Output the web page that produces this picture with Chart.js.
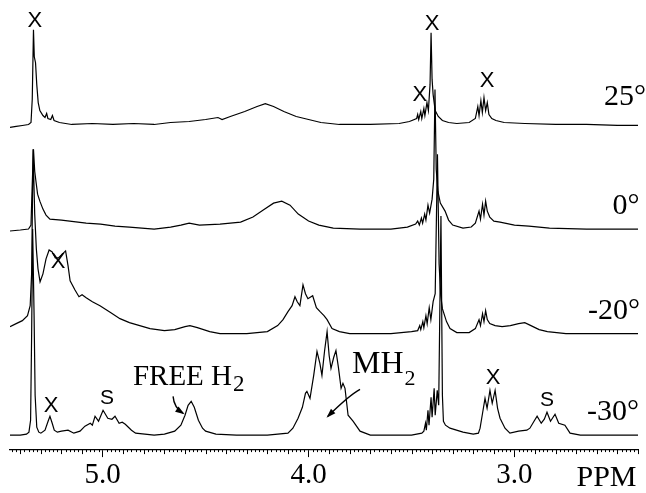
<!DOCTYPE html>
<html>
<head>
<meta charset="utf-8">
<script src="https://cdn.jsdelivr.net/npm/chart.js@4"></script>
<style>
  html, body { margin: 0; background: #fff; }
  #wrap { width: 646px; height: 493px; position: relative; }
</style>
</head>
<body>
<div id="wrap"><canvas id="nmr"></canvas></div>
<script>
// Stacked 1H NMR spectra: [ppm, intensity above the trace's own baseline]
const temps = ['25°', '0°', '-20°', '-30°'];

const spec25 = [[5.45,-3],[5.42,-2],[5.39,-1],[5.36,0],[5.348,2],[5.342,25],[5.336,95],[5.332,68],[5.326,62],[5.32,40],[5.313,22],[5.305,14],[5.29,9],[5.28,7],[5.272,11],[5.266,6],[5.252,5],[5.244,9],[5.236,4],[5.21,2],[5.15,0],[5.05,1],[4.95,0],[4.85,1],[4.75,0],[4.67,2],[4.58,3],[4.50,5],[4.44,7],[4.42,5],[4.38,8],[4.31,13],[4.25,18],[4.21,21],[4.17,18],[4.12,13],[4.06,8],[4.00,5],[3.94,2],[3.85,0],[3.70,0],[3.56,1],[3.51,3],[3.475,6],[3.47,10],[3.465,5],[3.455,13],[3.45,6],[3.44,16],[3.435,9],[3.425,22],[3.418,14],[3.41,40],[3.405,92],[3.40,45],[3.395,30],[3.385,14],[3.37,8],[3.35,4],[3.32,2],[3.28,1],[3.22,2],[3.19,6],[3.178,18],[3.172,9],[3.163,24],[3.156,12],[3.148,27],[3.14,14],[3.132,22],[3.124,10],[3.11,6],[3.09,4],[3.05,2],[2.95,1],[2.80,0],[2.65,0],[2.50,-1],[2.40,-1]];

const spec0 = [[5.45,-2],[5.40,-1],[5.36,0],[5.348,4],[5.342,45],[5.336,80],[5.33,58],[5.324,48],[5.316,35],[5.305,28],[5.29,20],[5.275,14],[5.256,10],[5.20,9],[5.16,8],[5.08,6],[5.01,5],[4.94,3],[4.87,2],[4.75,0],[4.67,2],[4.62,4],[4.58,6],[4.53,4],[4.43,5],[4.33,7],[4.27,12],[4.22,19],[4.17,26],[4.13,28],[4.09,24],[4.05,15],[4.00,8],[3.95,4],[3.88,1],[3.75,0],[3.60,0],[3.52,2],[3.48,5],[3.47,8],[3.462,4],[3.452,11],[3.446,6],[3.436,15],[3.43,9],[3.42,24],[3.412,16],[3.40,30],[3.392,50],[3.386,140],[3.38,60],[3.372,38],[3.36,26],[3.337,18],[3.32,9],[3.30,4],[3.25,1],[3.21,2],[3.19,6],[3.172,18],[3.165,10],[3.155,25],[3.148,14],[3.14,28],[3.132,18],[3.12,12],[3.10,8],[3.07,7],[3.0,4],[2.93,3],[2.83,1],[2.65,0],[2.40,0]];

const specM20 = [[5.45,7],[5.42,10],[5.39,13],[5.365,18],[5.352,28],[5.345,60],[5.338,185],[5.33,120],[5.322,85],[5.314,65],[5.304,52],[5.29,60],[5.275,75],[5.26,84],[5.245,82],[5.23,76],[5.215,76],[5.195,80],[5.18,83],[5.168,68],[5.158,53],[5.135,44],[5.115,37],[5.10,39],[5.08,36],[5.05,32],[5.013,28],[4.96,21],[4.916,15],[4.87,11],[4.82,8],[4.77,5],[4.70,3],[4.65,4],[4.60,7],[4.576,8],[4.54,6],[4.48,2],[4.43,0],[4.30,0],[4.20,2],[4.15,8],[4.124,14],[4.10,22],[4.08,28],[4.066,37],[4.055,32],[4.042,28],[4.027,49],[4.015,40],[4.003,35],[3.98,38],[3.962,26],[3.944,22],[3.925,18],[3.91,14],[3.886,5],[3.85,2],[3.80,0],[3.60,0],[3.50,2],[3.47,3],[3.46,8],[3.455,4],[3.445,12],[3.44,6],[3.43,18],[3.424,10],[3.414,26],[3.406,14],[3.395,32],[3.385,40],[3.374,180],[3.366,70],[3.358,38],[3.35,25],[3.33,12],[3.313,5],[3.28,1],[3.22,1],[3.19,5],[3.172,14],[3.165,8],[3.155,20],[3.148,12],[3.14,23],[3.132,14],[3.12,10],[3.094,8],[3.06,7],[3.02,8],[2.98,10],[2.95,11],[2.92,8],[2.88,4],[2.84,2],[2.75,0],[2.40,0]];

const specM30 = [[5.45,0],[5.40,0],[5.37,1],[5.358,3],[5.35,15],[5.345,100],[5.34,207],[5.333,120],[5.328,40],[5.32,8],[5.31,3],[5.30,2],[5.28,5],[5.265,14],[5.256,19],[5.245,12],[5.235,5],[5.22,3],[5.2,4],[5.168,5],[5.14,2],[5.11,4],[5.086,9],[5.06,12],[5.05,10],[5.037,19],[5.02,14],[4.998,25],[4.975,17],[4.955,16],[4.94,19],[4.92,12],[4.905,13],[4.89,11],[4.86,5],[4.84,2],[4.75,0],[4.70,1],[4.65,4],[4.62,10],[4.60,20],[4.585,30],[4.57,34],[4.555,28],[4.535,15],[4.515,7],[4.50,4],[4.45,1],[4.35,0],[4.20,0],[4.10,2],[4.076,7],[4.051,17],[4.03,28],[4.015,42],[4.008,44],[3.993,37],[3.975,60],[3.959,84],[3.945,72],[3.935,60],[3.922,85],[3.91,104],[3.9,80],[3.891,67],[3.878,78],[3.867,85],[3.855,68],[3.842,47],[3.833,52],[3.823,47],[3.808,20],[3.784,14],[3.75,4],[3.70,0],[3.50,0],[3.45,2],[3.44,4],[3.432,12],[3.428,5],[3.42,25],[3.415,10],[3.405,38],[3.40,18],[3.39,47],[3.385,20],[3.375,45],[3.368,30],[3.357,220],[3.35,40],[3.345,14],[3.335,10],[3.313,7],[3.25,3],[3.2,1],[3.175,2],[3.167,7],[3.155,22],[3.143,37],[3.133,27],[3.119,45],[3.108,32],[3.094,45],[3.082,27],[3.07,17],[3.046,7],[3.022,2],[2.98,4],[2.94,5],[2.925,7],[2.905,14],[2.89,19],[2.87,12],[2.855,16],[2.842,23],[2.825,14],[2.803,21],[2.785,12],[2.755,10],[2.73,2],[2.68,0],[2.40,0]];

const spectra = [spec25, spec0, specM20, specM30];
// vertical stacking of the traces
const offsets = [326, 221, 116, 14];

const tickValues = [5, 4, 3];
const tickLabels = ['5.0', '4.0', '3.0'];

// peak markers: [text, ppm, height]
const markers = [
    ['X', 5.329, 430], ['X', 3.400, 427], ['X', 3.459, 356], ['X', 3.133, 370],
    ['X', 5.217, 188], ['X', 5.251, 43], ['X', 3.104, 71],
    ['S', 4.979, 51], ['S', 2.842, 49]
];

const serif = '"Liberation Serif", "Times New Roman", serif';

const decor = {
    id: 'decor',
    afterDraw(chart) {
        const ctx = chart.ctx;
        const xs = chart.scales.x, ys = chart.scales.y;
        const px = v => xs.getPixelForValue(v);
        const py = v => ys.getPixelForValue(v);
        const bottom = chart.chartArea.bottom;
        ctx.save();
        ctx.strokeStyle = '#000';
        ctx.fillStyle = '#000';
        ctx.lineWidth = 1;

        // minor ticks every 0.02, medium every 0.1
        ctx.beginPath();
        for (let k = 120; k <= 272; k++) {
            if (k % 50 === 0) continue;
            const len = (k % 5 === 0) ? 5 : 3;
            const x = Math.round(px(k / 50)) + 0.5;
            ctx.moveTo(x, bottom);
            ctx.lineTo(x, bottom + len);
        }
        ctx.stroke();

        // temperature labels
        ctx.font = '30px ' + serif;
        ctx.textAlign = 'center';
        ctx.textBaseline = 'alphabetic';
        const labelPos = [[2.463, 346], [2.458, 236], [2.517, 131], [2.521, 29]];
        temps.forEach((t, i) => ctx.fillText(t, px(labelPos[i][0]), py(labelPos[i][1])));
        ctx.fillText('PPM', px(2.553), py(-37));

        // peak markers
        ctx.textBaseline = 'middle';
        markers.forEach(([t, v, h]) => {
            ctx.font = (t === 'X' ? '22px' : '21px') + ' "Liberation Sans", Arial, sans-serif';
            ctx.fillText(t, px(v), py(h));
        });

        // FREE H2 and MH2 with subscripts
        ctx.textAlign = 'left';
        ctx.textBaseline = 'alphabetic';
        function sub(main, sz, v, h, subSz, drop) {
            ctx.font = sz + 'px ' + serif;
            const x = px(v), y = py(h);
            ctx.fillText(main, x, y);
            const w = ctx.measureText(main).width;
            ctx.font = subSz + 'px ' + serif;
            ctx.fillText('2', x + w + 1, y + drop);
        }
        sub('FREE H', 29, 4.853, 64, 23, 6);
        sub('MH', 32, 3.789, 76, 22, 12);

        // curved arrows: start, control, end
        function arrow(a, c, b) {
            const x0 = px(a[0]), y0 = py(a[1]);
            const x1 = px(c[0]), y1 = py(c[1]);
            const x2 = px(b[0]), y2 = py(b[1]);
            ctx.lineWidth = 1.4;
            ctx.beginPath();
            ctx.moveTo(x0, y0);
            ctx.quadraticCurveTo(x1, y1, x2, y2);
            ctx.stroke();
            const ang = Math.atan2(y2 - y1, x2 - x1);
            ctx.beginPath();
            ctx.moveTo(x2 + 2 * Math.cos(ang), y2 + 2 * Math.sin(ang));
            ctx.lineTo(x2 - 8 * Math.cos(ang - 0.4), y2 - 8 * Math.sin(ang - 0.4));
            ctx.lineTo(x2 - 8 * Math.cos(ang + 0.4), y2 - 8 * Math.sin(ang + 0.4));
            ctx.closePath();
            ctx.fill();
        }
        arrow([4.658, 53], [4.654, 42], [4.61, 36]);
        arrow([3.75, 60], [3.803, 54], [3.906, 33]);
        ctx.restore();
    }
};

function initChart() {
    const ctx = document.getElementById('nmr').getContext('2d');
    new Chart(ctx, {
        type: 'line',
        data: {
            datasets: spectra.map((s, i) => ({
                label: temps[i],
                data: s.map(([x, y]) => ({ x: x, y: y + offsets[i] })),
                borderColor: '#000',
                borderWidth: 1.2,
                pointRadius: 0,
                tension: 0,
                fill: false
            }))
        },
        options: {
            responsive: true,
            maintainAspectRatio: false,
            animation: false,
            layout: { padding: { left: 10, right: 8, top: 0, bottom: 0 } },
            plugins: { legend: { display: false }, tooltip: { enabled: false } },
            scales: {
                x: {
                    type: 'linear',
                    reverse: true,
                    min: 2.40,
                    max: 5.45,
                    afterBuildTicks: axis => { axis.ticks = tickValues.map(v => ({ value: v })); },
                    ticks: {
                        callback: v => tickLabels[tickValues.indexOf(v)] || '',
                        font: { family: serif, size: 29, lineHeight: 1.1 },
                        color: '#000',
                        padding: 2,
                        maxRotation: 0,
                        autoSkip: false
                    },
                    grid: { drawOnChartArea: false, tickLength: 8, color: '#000', tickWidth: 1 },
                    border: { color: '#000', width: 1.2 }
                },
                y: { display: false, min: 0, max: 451 }
            }
        },
        plugins: [decor]
    });
}

document.addEventListener('DOMContentLoaded', initChart);
</script>
</body>
</html>
